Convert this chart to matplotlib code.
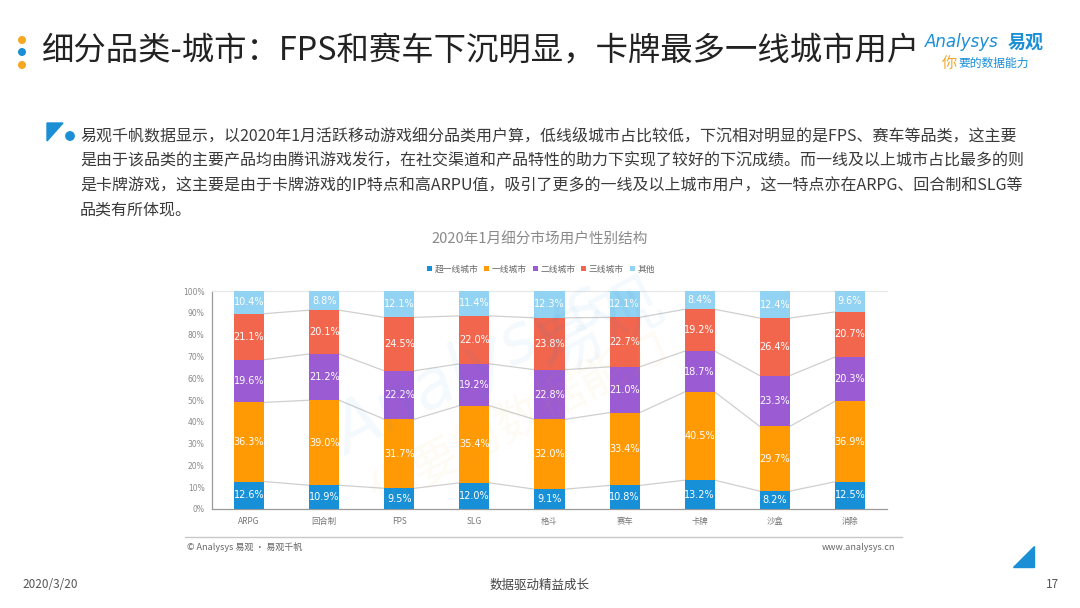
import matplotlib
matplotlib.use("Agg")
import matplotlib.pyplot as plt
from matplotlib.patches import Polygon, Ellipse, Patch
import numpy as np

plt.rcParams['font.family'] = ['Noto Sans CJK SC', 'DejaVu Sans']

# 数据
categories = ['ARPG', '回合制', 'FPS', 'SLG', '格斗', '赛车', '卡牌', '沙盒', '消除']
series_names = ['超一线城市', '一线城市', '二线城市', '三线城市', '其他']
super_tier1 = [12.6, 10.9, 9.5, 12.0, 9.1, 10.8, 13.2, 8.2, 12.5]
tier1 = [36.3, 39.0, 31.7, 35.4, 32.0, 33.4, 40.5, 29.7, 36.9]
tier2 = [19.6, 21.2, 22.2, 19.2, 22.8, 21.0, 18.7, 23.3, 20.3]
tier3 = [21.1, 20.1, 24.5, 22.0, 23.8, 22.7, 19.2, 26.4, 20.7]
others = [10.4, 8.8, 12.1, 11.4, 12.3, 12.1, 8.4, 12.4, 9.6]
y_ticks = [0, 10, 20, 30, 40, 50, 60, 70, 80, 90, 100]

colors = ['#1790d8', '#ff9a05', '#9b5bd2', '#f2664e', '#92d2f2']
W, H = 1080, 608

def fx(x):
    return x / W

def fy(y):
    return 1 - y / H

def dot(x, y, r, c):
    # 圆点：按像素换算宽高，避免变成椭圆
    fig.add_artist(Ellipse((fx(x), fy(y)), 2 * r / W, 2 * r / H,
                           transform=fig.transFigure, color=c, zorder=5))

fig = plt.figure(figsize=(10.8, 6.08), dpi=100, facecolor='white')

# 标题栏
for yy, c in [(40, '#f5a623'), (52, '#1a8fd6'), (65, '#f5a623')]:
    dot(22, yy, 3.3, c)
fig.text(fx(42), fy(51), '细分品类-城市：FPS和赛车下沉明显，卡牌最多一线城市用户',
         fontsize=23.3, color='#222222', va='center', ha='left')

# logo
fig.text(fx(925), fy(42), 'Analysys', fontsize=12, color='#1a8fd6', style='italic',
         va='center', ha='left', family=['DejaVu Sans'])
fig.text(fx(1008), fy(42), '易观', fontsize=13, color='#1a8fd6', weight='bold',
         va='center', ha='left')
fig.text(fx(942), fy(63), '你', fontsize=11, color='#f5a623', va='center', ha='left')
fig.text(fx(958), fy(63), '要的数据能力', fontsize=8.5, color='#1a8fd6', va='center', ha='left',
         style='italic')

# 段落标记
fig.add_artist(Polygon([(fx(47), fy(123)), (fx(63), fy(123)), (fx(47), fy(141))],
                       closed=True, transform=fig.transFigure, color='#1a8fd6'))
dot(70, 136, 4.2, '#1a8fd6')

paragraph = [
    '易观千帆数据显示，以2020年1月活跃移动游戏细分品类用户算，低线级城市占比较低，下沉相对明显的是FPS、赛车等品类，这主要',
    '是由于该品类的主要产品均由腾讯游戏发行，在社交渠道和产品特性的助力下实现了较好的下沉成绩。而一线及以上城市占比最多的则',
    '是卡牌游戏，这主要是由于卡牌游戏的IP特点和高ARPU值，吸引了更多的一线及以上城市用户，这一特点亦在ARPG、回合制和SLG等',
    '品类有所体现。',
]
for i, line in enumerate(paragraph):
    fig.text(fx(80), fy(136 + i * 24.8), line, fontsize=11.5, color='#3a3a3a',
             va='center', ha='left')

# 图表标题与图例
fig.text(fx(540), fy(240), '2020年1月细分市场用户性别结构', fontsize=10.5, color='#8a8a8a',
         ha='center', va='center')
handles = [Patch(facecolor=c, edgecolor='none') for c in colors]
fig.legend(handles, series_names, loc='center', bbox_to_anchor=(fx(541), fy(269)), ncol=5,
           fontsize=6.3, frameon=False, handlelength=0.55, handleheight=0.55,
           handletextpad=0.3, columnspacing=0.7, labelcolor='#666666')

# 主图
ax = fig.add_axes([fx(211.5), fy(509), (887.5 - 211.5) / W, (509 - 291) / H])
x = np.arange(len(categories))
bw = 0.4
stack = [super_tier1, tier1, tier2, tier3, others]
bottom = np.zeros(len(categories))
bounds = []
for vals, c in zip(stack, colors):
    vals = np.array(vals)
    ax.bar(x, vals, bw, bottom=bottom, color=c, zorder=3)
    for xi, b, v in zip(x, bottom, vals):
        ax.text(xi, b + v / 2, f'{v:.1f}%', ha='center', va='center', fontsize=7,
                color='white', zorder=4, family=['DejaVu Sans'])
    bottom = bottom + vals
    bounds.append(bottom.copy())

# 连接线
for b in bounds[:-1]:
    for i in range(len(categories) - 1):
        ax.plot([x[i] + bw / 2, x[i + 1] - bw / 2], [b[i], b[i + 1]], color='#cfcfcf',
                lw=0.9, zorder=2)

ax.set_xlim(-0.5, len(categories) - 0.5)
ax.set_ylim(0, 100)
ax.set_yticks(y_ticks)
ax.set_yticklabels([f'{t}%' for t in y_ticks], fontsize=5.5, color='#888888',
                   family=['DejaVu Sans'])
ax.set_xticks(x)
ax.set_xticklabels(categories, fontsize=6, color='#777777')
ax.tick_params(length=0, pad=6)
ax.tick_params(axis='y', pad=5)
ax.spines['right'].set_visible(False)
ax.spines['top'].set_color('#e6e6e6')
ax.spines['left'].set_color('#9a9a9a')
ax.spines['bottom'].set_color('#9a9a9a')
ax.spines['left'].set_linewidth(0.9)
ax.spines['bottom'].set_linewidth(0.9)

# 水印
fig.text(fx(470), fy(370), 'Analysys', fontsize=48, color='#1a8fd6', alpha=0.05,
         rotation=28, ha='center', va='center', style='italic', family=['DejaVu Sans'])
fig.text(fx(600), fy(330), '易观', fontsize=48, color='#1a8fd6', alpha=0.05,
         rotation=28, ha='center', va='center')
fig.text(fx(520), fy(420), '你要的数据能力', fontsize=34, color='#f5a623', alpha=0.05,
         rotation=28, ha='center', va='center')

# 底部
fig.add_artist(plt.Line2D([fx(185), fx(902)], [fy(537), fy(537)], color='#c8c8c8', lw=1))
fig.text(fx(187), fy(547), '© Analysys 易观 · 易观千帆', fontsize=6.5, color='#666666',
         va='center', ha='left')
fig.text(fx(895), fy(547), 'www.analysys.cn', fontsize=6.5, color='#666666',
         va='center', ha='right')
fig.add_artist(Polygon([(fx(1034), fy(546)), (fx(1034), fy(567)), (fx(1013), fy(567))],
                       closed=True, transform=fig.transFigure, color='#1a8fd6'))
fig.text(fx(22), fy(585), '2020/3/20', fontsize=8.5, color='#555555', va='center', ha='left')
fig.text(fx(540), fy(585), '数据驱动精益成长', fontsize=9, color='#444444', va='center',
         ha='center')
fig.text(fx(1059), fy(585), '17', fontsize=8.5, color='#555555', va='center', ha='right')

fig.savefig('out.png', dpi=100, facecolor='white')
